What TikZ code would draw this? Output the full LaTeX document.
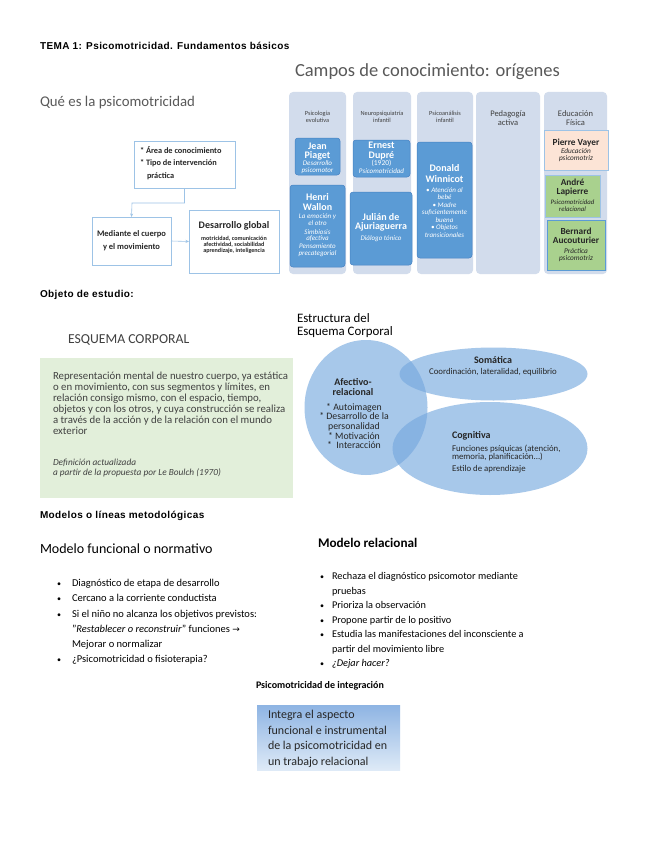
\documentclass[tikz,border=0pt]{standalone}
\usepackage{fontspec}
\setmainfont{Carlito}
\newfontfamily\headf{Liberation Sans}[LetterSpace=4]
\newfontfamily\symf{DejaVu Sans}
\usetikzlibrary{arrows.meta}
\definecolor{colbg}{RGB}{210,220,236}
\definecolor{blueb}{RGB}{91,155,213}
\definecolor{bluebd}{RGB}{70,130,195}
\definecolor{peach}{RGB}{252,228,214}
\definecolor{greenb}{RGB}{169,209,142}
\definecolor{greenlt}{RGB}{226,239,218}
\definecolor{boxline}{RGB}{157,195,230}
\definecolor{ellc}{RGB}{117,168,222}
\definecolor{txtgray}{RGB}{64,64,64}
\definecolor{titgray}{RGB}{89,89,89}
\definecolor{darktxt}{RGB}{38,38,38}
\definecolor{gradtop}{RGB}{142,180,227}
\definecolor{gradbot}{RGB}{222,234,247}
\begin{document}
\begin{tikzpicture}[x=1pt,y=-1pt,
  every node/.style={inner sep=0pt, outer sep=0pt},
  heading/.style={anchor=west, font=\headf\bfseries\fontsize{10}{12}\selectfont},
  slidetitle/.style={anchor=west, text=titgray, font=\fontsize{14.8}{17}\selectfont},
  qbox/.style={draw=boxline, line width=0.9pt, fill=white, anchor=north west},
  qtext/.style={font=\bfseries\fontsize{8.3}{12.5}\selectfont, text=darktxt},
  conn/.style={draw=boxline, line width=0.6pt, -{Stealth[length=3.5pt,width=3pt]}},
  colbox/.style={fill=colbg, rounded corners=4pt, anchor=north west},
  colhead/.style={align=center, text=txtgray, font=\fontsize{6.3}{6.5}\selectfont},
  colheadb/.style={align=center, text=txtgray, font=\fontsize{8.5}{9}\selectfont},
  bluebox/.style={fill=blueb, draw=bluebd, line width=0.5pt, rounded corners=3pt, anchor=north west},
  bname/.style={align=center, text=white, font=\bfseries\fontsize{10}{9.5}\selectfont},
  bsub/.style={align=center, text=white, font=\itshape\fontsize{7}{6.8}\selectfont},
  bsubr/.style={align=center, text=white, font=\fontsize{7.5}{7}\selectfont},
  efbox/.style={draw=boxline, line width=0.8pt, anchor=north west},
  ename/.style={align=center, text=darktxt, font=\bfseries\fontsize{9.3}{9}\selectfont},
  esub/.style={align=center, text=darktxt, font=\itshape\fontsize{7.3}{7.5}\selectfont},
  ellfill/.style={fill=ellc, fill opacity=0.63},
  elltitle/.style={text=darktxt, font=\bfseries\fontsize{10}{10}\selectfont},
  elltext/.style={text=darktxt, font=\fontsize{8.8}{8.5}\selectfont},
  bodytext/.style={anchor=north west, align=left, text=black, font=\fontsize{10.5}{15.2}\selectfont}
]
\useasboundingbox (0,0) rectangle (655,848);
\fill[white] (0,0) rectangle (655,848);

% ---------------- headings
\node[heading] (tema) at (40,46) {TEMA 1: Psicomotricidad. Fundamentos básicos};
\node[heading] (objeto) at (40,295) {Objeto de estudio:};
\node[heading] (modelos) at (40,516) {Modelos o líneas metodológicas};

% ---------------- Qué es la psicomotricidad
\node[slidetitle] (que) at (40,103) {Qué es la psicomotricidad};
\node[qbox, minimum width=101pt, minimum height=47pt] (b1) at (134,141) {};
\node[qtext, anchor=north west, align=left] (b1t) at (140,146.5)
  {* Área de conocimiento\\* Tipo de intervención\\\hspace{7pt}práctica};
\node[qbox, minimum width=79pt, minimum height=48pt] (b2) at (92,217) {};
\node[qtext, align=center, font=\bfseries\fontsize{8.5}{13}\selectfont] (b2t) at (131.5,241) {Mediante el cuerpo\\y el movimiento};
\node[qbox, minimum width=90pt, minimum height=63pt] (b3) at (189,210) {};
\node[text=darktxt, font=\bfseries\fontsize{10}{12}\selectfont] (b3t) at (234,226) {Desarrollo global};
\node[align=center, text=darktxt, font=\bfseries\fontsize{6.1}{6}\selectfont] (b3s) at (234,245)
  {motricidad, comunicación\\afectividad, sociabilidad\\aprendizaje, inteligencia};
\coordinate (k1) at (132,203);
\draw[conn] (b1.south) |- (k1) -- (b2.north);
\draw[conn] (b2.east) -- (b3.west);

% ---------------- Campos de conocimiento
\node[anchor=west, text=titgray, font=\fontsize{18.5}{20}\selectfont] (campos) at (295,72) {Campos de conocimiento: orígenes};
\node[colbox, minimum width=57pt, minimum height=182pt] (c1) at (289,92) {};
\node[colbox, minimum width=58pt, minimum height=182pt] (c2) at (353,92) {};
\node[colbox, minimum width=56pt, minimum height=182pt] (c3) at (417,92) {};
\node[colbox, minimum width=64pt, minimum height=182pt] (c4) at (476,92) {};
\node[colbox, minimum width=63pt, minimum height=182pt] (c5) at (544,92) {};
\node[colhead] (h1) at (317.5,117) {Psicología\\evolutiva};
\node[colhead] (h2) at (382,117) {Neuropsiquiatría\\infantil};
\node[colhead] (h3) at (445,117) {Psicoanálisis\\infantil};
\node[colheadb] (h4) at (508,118.5) {Pedagogía\\activa};
\node[colheadb] (h5) at (575.5,118.5) {Educación\\Física};

% column 1
\node[bluebox, minimum width=45pt, minimum height=37pt] (piaget) at (295,138) {};
\node[bname] (piagetn) at (317.5,151.5) {Jean\\Piaget};
\node[bsub] (piagets) at (317.5,167) {Desarrollo\\psicomotor};
\node[bluebox, minimum width=55pt, minimum height=82pt] (wallon) at (290,185) {};
\node[bname] (wallonn) at (317.5,202) {Henri\\Wallon};
\node[bsub] (wallons1) at (317.5,220) {La emoción y\\el otro};
\node[bsub] (wallons2) at (317.5,235.5) {Simbiosis\\afectiva};
\node[bsub] (wallons3) at (317.5,250.5) {Pensamiento\\precategorial};

% column 2
\node[bluebox, minimum width=57pt, minimum height=37pt] (dupre) at (353,140) {};
\node[bname] (dupren) at (381.5,151) {Ernest\\Dupré};
\node[bsubr] (dupred) at (381.5,163) {(1920)};
\node[bsub] (dupres) at (381.5,171) {Psicomotricidad};
\node[bluebox, minimum width=62pt, minimum height=73pt] (ajur) at (350,192) {};
\node[bname] (ajurn) at (381,222.5) {Julián de\\Ajuriaguerra};
\node[bsub] (ajurs) at (381,238.5) {Diálogo tónico};

% column 3
\node[bluebox, minimum width=55pt, minimum height=116pt] (winn) at (417,142) {};
\node[bname, font=\bfseries\fontsize{10}{10.5}\selectfont] (winnn) at (444.5,173.5) {Donald\\Winnicot};
\node[bsub, font=\itshape\fontsize{7}{7.5}\selectfont] (winns) at (444.5,212.5)
  {• Atención al\\bebé\\• Madre\\suficientemente\\buena\\• Objetos\\transicionales};

% column 5
\node[efbox, fill=peach, minimum width=64pt, minimum height=40pt] (vayer) at (544,130) {};
\node[ename] (vayern) at (576,143) {Pierre Vayer};
\node[esub] (vayers) at (576,155) {Educación\\psicomotriz};
\node[efbox, fill=greenb, minimum width=55pt, minimum height=42pt] (lap) at (545,175) {};
\node[ename] (lapn) at (572.5,187.5) {André\\Lapierre};
\node[esub, font=\itshape\fontsize{6.8}{7}\selectfont] (laps) at (572.5,205.5) {Psicomotricidad\\relacional};
\node[efbox, fill=greenb, draw=blueb, minimum width=58pt, minimum height=50pt] (auco) at (547,220) {};
\node[ename] (aucon) at (576,236) {Bernard\\Aucouturier};
\node[esub] (aucos) at (576,255) {Práctica\\psicomotriz};

% ---------------- Esquema corporal
\node[anchor=west, text=txtgray, font=\fontsize{13.7}{15}\selectfont] (esq) at (68,340) {ESQUEMA CORPORAL};
\node[fill=greenlt, anchor=north west, minimum width=253pt, minimum height=140pt] (defbox) at (40,358) {};
\node[anchor=north west, align=left, text=txtgray, font=\fontsize{10.8}{11}\selectfont] (deft) at (53,371.5)
  {Representación mental de nuestro cuerpo, ya estática\\
   o en movimiento, con sus segmentos y límites, en\\
   relación consigo mismo, con el espacio, tiempo,\\
   objetos y con los otros, y cuya construcción se realiza\\
   a través de la acción y de la relación con el mundo\\
   exterior};
\node[anchor=north west, align=left, text=txtgray, font=\itshape\fontsize{9.3}{10.3}\selectfont] (defn) at (53,459)
  {Definición actualizada\\a partir de la propuesta por Le Boulch (1970)};

% ---------------- Estructura del esquema corporal
\node[anchor=north west, align=left, text=black, font=\fontsize{12.9}{13}\selectfont] (estr) at (297,314)
  {Estructura del\\Esquema Corporal};
\fill[ellfill] (366,407.5) ellipse [x radius=61.5, y radius=67.5];
\fill[ellfill] (493.5,374) ellipse [x radius=94, y radius=26.5];
\fill[ellfill] (490,448.5) ellipse [x radius=97.5, y radius=46.5];
\node[elltitle] (som) at (493,360) {Somática};
\node[elltext] (soms) at (493,372) {Coordinación, lateralidad, equilibrio};
\node[elltitle, align=center] (afe) at (353,387) {Afectivo-\\relacional};
\node[elltext, align=center, font=\fontsize{9.8}{9.6}\selectfont] (afes) at (354,426)
  {* Autoimagen\\* Desarrollo de la\\personalidad\\* Motivación\\* \ Interacción};
\node[elltitle, anchor=west] (cog) at (452,436) {Cognitiva};
\node[elltext, anchor=north west, align=left] (cogs) at (452,445)
  {Funciones psíquicas (atención,\\memoria, planificación...)};
\node[elltext, anchor=west] (cogs2) at (452,469.5) {Estilo de aprendizaje};

% ---------------- Modelos
\node[anchor=west, text=black, font=\fontsize{14}{16}\selectfont] (mfun) at (40,549) {Modelo funcional o normativo};
\node[bodytext] (mfunl) at (72,579.5)
  {\llap{\fontsize{8}{8}\selectfont•\hspace{11pt}}Diagnóstico de etapa de desarrollo\\
   \llap{\fontsize{8}{8}\selectfont•\hspace{11pt}}Cercano a la corriente conductista\\
   \llap{\fontsize{8}{8}\selectfont•\hspace{11pt}}Si el niño no alcanza los objetivos previstos:\\
   "\textit{Restablecer o reconstruir}" funciones {\symf\fontsize{9}{9}\selectfont →}\\
   Mejorar o normalizar\\
   \llap{\fontsize{8}{8}\selectfont•\hspace{11pt}}¿Psicomotricidad o fisioterapia?};
\node[anchor=west, text=black, font=\bfseries\fontsize{13.2}{15}\selectfont] (mrel) at (318,543) {Modelo relacional};
\node[bodytext, font=\fontsize{10.3}{14.5}\selectfont] (mrell) at (332,572.5)
  {\llap{\fontsize{8}{8}\selectfont•\hspace{8pt}}Rechaza el diagnóstico psicomotor mediante\\
   pruebas\\
   \llap{\fontsize{8}{8}\selectfont•\hspace{8pt}}Prioriza la observación\\
   \llap{\fontsize{8}{8}\selectfont•\hspace{8pt}}Propone partir de lo positivo\\
   \llap{\fontsize{8}{8}\selectfont•\hspace{8pt}}Estudia las manifestaciones del inconsciente a\\
   partir del movimiento libre\\
   \llap{\fontsize{8}{8}\selectfont•\hspace{8pt}}\textit{¿Dejar hacer?}};

% ---------------- Integración
\node[anchor=west, text=black, font=\bfseries\fontsize{10}{12}\selectfont] (integt) at (256,686) {Psicomotricidad de integración};
\node[anchor=north west, top color=gradtop, bottom color=gradbot, minimum width=143pt, minimum height=65pt] (integ) at (257,705) {};
\node[anchor=north west, align=left, text=darktxt, font=\fontsize{12}{15.5}\selectfont] (integs) at (268,710.5)
  {Integra el aspecto\\funcional e instrumental\\de la psicomotricidad en\\un trabajo relacional};
\end{tikzpicture}
\end{document}
